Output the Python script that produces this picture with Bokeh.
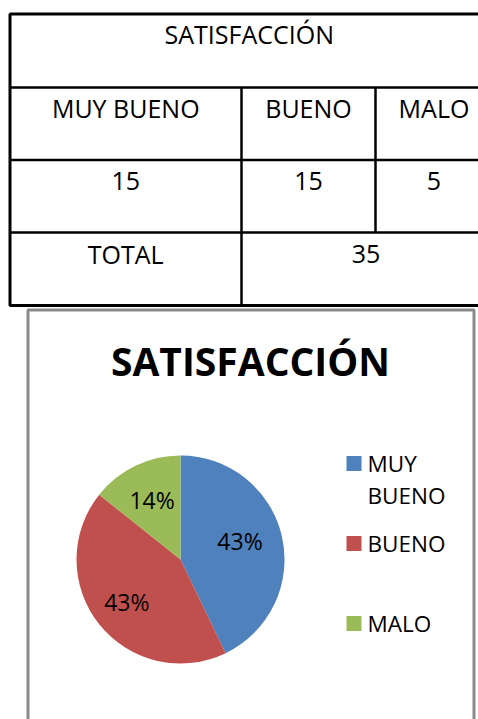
import numpy as np
from bokeh.plotting import figure
from bokeh.models import Range1d, ColumnDataSource
from bokeh.core.properties import value
from bokeh.embed import file_html
from bokeh.resources import INLINE

# Survey results
title = "SATISFACCIÓN"
categories = ["MUY BUENO", "BUENO", "MALO"]
counts = [15, 15, 5]
total_label = "TOTAL"
colors = ["#4F81BD", "#C0504D", "#9BBB59"]

W, H = 478, 719
FONT = "Open Sans"

p = figure(width=W, height=H, x_range=Range1d(0, W), y_range=Range1d(-H, 0),
           output_backend="svg", toolbar_location=None, min_border=0)
p.axis.visible = False
p.grid.visible = False
p.outline_line_color = None
p.background_fill_color = "white"
p.border_fill_color = "white"


def Y(v):
    return -np.asarray(v, dtype=float)


# ---- table grid ----
tx0, tx1 = 9.5, 492
col_x = [tx0, 241, 375, tx1]
row_y = [13.5, 87, 159.5, 232, 305]

# outer frame (right edge runs past the page)
p.line([tx1, tx0, tx0, tx1], Y([row_y[0], row_y[0], row_y[-1], row_y[-1]]),
       line_color="black", line_width=3)
# horizontal rules
p.segment(x0=[tx0] * 3, x1=[tx1] * 3, y0=Y(row_y[1:4]), y1=Y(row_y[1:4]),
          line_color="black", line_width=2.5)
# vertical rules
p.segment(x0=[col_x[1], col_x[2], col_x[1]], x1=[col_x[1], col_x[2], col_x[1]],
          y0=Y([row_y[1], row_y[1], row_y[3]]), y1=Y([row_y[3], row_y[3], row_y[4]]),
          line_color="black", line_width=2.5)

col_c = [(col_x[i] + col_x[i + 1]) / 2 for i in range(3)]
txt = dict(text_font=value(FONT), text_font_size="25px", text_color="black",
           text_align="center", text_baseline="middle")
p.text(x=[(tx0 + 488) / 2], y=Y([33]), text=[title], **txt)
p.text(x=col_c, y=Y([107] * 3), text=categories, **txt)
p.text(x=col_c, y=Y([180] * 3), text=[str(c) for c in counts], **txt)
p.text(x=[col_c[0], (col_x[1] + 490) / 2], y=Y([253, 253]),
       text=[total_label, str(sum(counts))], **txt)

# ---- chart frame ----
p.line([27.5, 27.5, 473.5, 473.5], Y([730, 309.5, 309.5, 730]),
       line_color="#8a8a8a", line_width=3)
p.text(x=[250], y=Y([360]), text=[title], text_font=value(FONT),
       text_font_size="39px", text_font_style="bold", text_color="black",
       text_align="center", text_baseline="middle")

# ---- pie ----
cx, cy, r = 180, 559, 104
vals = np.array(counts, dtype=float)
frac = vals / vals.sum()
ang = frac * 2 * np.pi
cum = np.concatenate([[0], np.cumsum(ang)])
start = np.pi / 2 - cum[:-1]
end = np.pi / 2 - cum[1:]
src = ColumnDataSource(dict(start=start, end=end, color=colors))
p.wedge(x=cx, y=-cy, radius=r, start_angle="start", end_angle="end",
        direction="clock", fill_color="color", line_color=None, source=src)

# percentage labels sit along each slice's bisector
mid = (start + end) / 2
lr = np.array([0.6, 0.66, 0.63]) * r
pct = [f"{round(f * 100)}%" for f in frac]
p.text(x=cx + lr * np.cos(mid + np.array([0.08, 0, 0])),
       y=-cy + lr * np.sin(mid + np.array([0.08, 0, 0])), text=pct,
       text_font=value(FONT), text_font_size="23px", text_color="black",
       text_align="center", text_baseline="middle")

# ---- legend ----
leg_y = [463, 543, 623]
p.rect(x=[353.5] * 3, y=Y(leg_y), width=15, height=15, fill_color=colors,
       line_color=None)
leg_lines = ["MUY", "BUENO", "BUENO", "MALO"]
leg_ly = [463, 495, 543, 623]
p.text(x=[367] * 4, y=Y(leg_ly), text=leg_lines, text_font=value(FONT),
       text_font_size="22.5px", text_color="black", text_align="left",
       text_baseline="middle")

open("out.html", "w").write(file_html(p, INLINE))
